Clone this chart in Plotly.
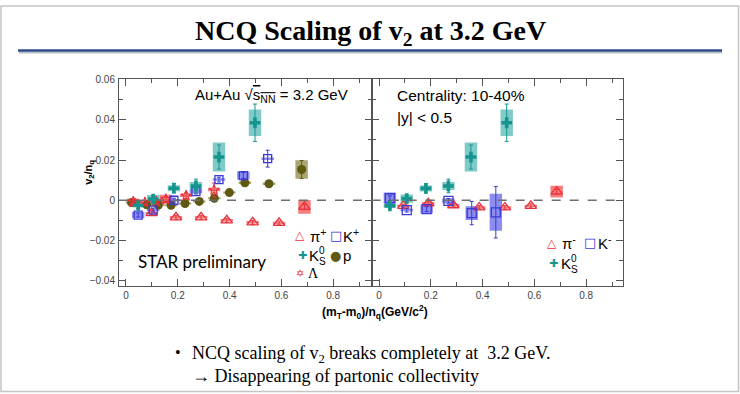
import plotly.graph_objects as go

# ---------------- data ----------------
# Left panel (positive particles + neutral)
pip_x   = [0.035, 0.099, 0.193, 0.290, 0.389, 0.489, 0.591, 0.689]
pip_y   = [-0.0016, -0.0064, -0.0085, -0.0085, -0.0100, -0.0110, -0.0113, -0.0033]
pip_err = [0.0008, 0.0010, 0.0010, 0.0010, 0.0010, 0.0010, 0.0010, 0.0012]
pip_sys = [0.0015, 0.0006, 0.0006, 0.0006, 0.0006, 0.0006, 0.0006, 0.0034]

kp_x   = [0.047, 0.105, 0.185, 0.270, 0.359, 0.453, 0.547]
kp_y   = [-0.0074, -0.0049, 0.0000, 0.0043, 0.0103, 0.0123, 0.0207]
kp_err = [0.0010, 0.0010, 0.0010, 0.0012, 0.0012, 0.0015, 0.0042]
kp_sys = [0.0016, 0.0006, 0.0006, 0.0010, 0.0006, 0.0020, 0.0006]

k0_x   = [0.047, 0.105, 0.185, 0.270, 0.359, 0.498]
k0_y   = [-0.0026, 0.0006, 0.0060, 0.0071, 0.0215, 0.0386]
k0_err = [0.0015, 0.0018, 0.0023, 0.0034, 0.0060, 0.0093]
k0_sys = [0.0008, 0.0020, 0.0015, 0.0020, 0.0072, 0.0066]

p_x   = [0.022, 0.080, 0.125, 0.174, 0.228, 0.283, 0.341, 0.399, 0.459, 0.552, 0.678]
p_y   = [-0.0011, -0.0023, -0.0024, -0.0025, -0.0016, -0.0006, 0.0010, 0.0038, 0.0087, 0.0082, 0.0153]
p_err = [0.0005, 0.0005, 0.0005, 0.0005, 0.0005, 0.0005, 0.0006, 0.0006, 0.0007, 0.0008, 0.0045]
p_sys = [0.0005, 0.0005, 0.0005, 0.0005, 0.0005, 0.0005, 0.0005, 0.0005, 0.0006, 0.0006, 0.0046]

lam_x   = [0.028, 0.073, 0.116, 0.154, 0.232, 0.340]
lam_y   = [-0.0008, -0.0011, -0.0006, 0.0005, 0.0022, 0.0051]
lam_err = [0.0010, 0.0010, 0.0010, 0.0012, 0.0015, 0.0035]
lam_sys = [0.0015, 0.0006, 0.0006, 0.0022, 0.0006, 0.0006]

# Right panel (negative particles + neutral)
pim_x   = [0.094, 0.190, 0.287, 0.387, 0.486, 0.586, 0.686]
pim_y   = [-0.0028, -0.0015, -0.0025, -0.0036, -0.0036, -0.0028, 0.0043]
pim_err = [0.0008, 0.0008, 0.0008, 0.0009, 0.0009, 0.0010, 0.0012]
pim_sys = [0.0006, 0.0006, 0.0006, 0.0006, 0.0006, 0.0006, 0.0029]

km_x   = [0.042, 0.107, 0.184, 0.268, 0.358, 0.451]
km_y   = [0.0010, -0.0049, -0.0044, -0.0003, -0.0064, -0.0060]
km_err = [0.0012, 0.0010, 0.0012, 0.0012, 0.0058, 0.0128]
km_sys = [0.0028, 0.0006, 0.0022, 0.0012, 0.0034, 0.0092]

k0r_x   = [0.042, 0.107, 0.181, 0.268, 0.355, 0.493]
k0r_y   = [-0.0028, 0.0008, 0.0059, 0.0071, 0.0215, 0.0386]
k0r_err = [0.0015, 0.0018, 0.0023, 0.0034, 0.0060, 0.0093]
k0r_sys = [0.0008, 0.0020, 0.0015, 0.0020, 0.0072, 0.0066]

x_ticks = [0, 0.2, 0.4, 0.6, 0.8]
x_ticktext = ["0", "0.2", "0.4", "0.6", "0.8"]
y_ticks = [-0.04, -0.02, 0, 0.02, 0.04, 0.06]
y_ticktext = ["\u22120.04", "\u22120.02", "0", "0.02", "0.04", "0.06"]

# ---------------- styling ----------------
W, H = 740, 394
RED, BLUE, TEAL, OLIVE = "#e8303a", "#3a3ad6", "#16958f", "#5f5a12"
RED_F, BLUE_F = "rgba(240,70,70,0.70)", "rgba(80,80,230,0.65)"
TEAL_F, OLIVE_F = "rgba(60,175,170,0.65)", "rgba(125,118,40,0.65)"

def px(v):  # horizontal pixel -> paper
    return v / W

def py(v):  # vertical pixel -> paper
    return 1 - v / H

L0, L1, R1 = 119, 371.7, 623
T0, B0 = 75, 285
YR = [-0.0429, 0.06035]
XR_L = [-0.0270, 0.9486]
XR_R = [-0.0282, 0.9420]

fig = go.Figure()
shapes = []

def add_series(x, y, err, sys, xa, ya, symbol, color, fill, size, lw=1.3):
    for xi, yi, si in zip(x, y, sys):
        shapes.append(dict(type="rect", xref=xa, yref=ya, layer="below",
                           x0=xi - 0.024, x1=xi + 0.024, y0=yi - si, y1=yi + si,
                           fillcolor=fill, line=dict(width=0)))
    fig.add_trace(go.Scatter(
        x=x, y=y, mode="markers", xaxis=xa, yaxis=ya, showlegend=False,
        marker=dict(symbol=symbol, color=color, size=size,
                    line=dict(color=color, width=lw)),
        error_y=dict(type="data", array=err, color=color, thickness=1, width=2)))

# left panel
add_series(p_x, p_y, p_err, p_sys, "x", "y", "circle", OLIVE, OLIVE_F, 9, 0)
add_series(lam_x, lam_y, lam_err, lam_sys, "x", "y", "star-open", RED, RED_F, 8, 1.2)
add_series(pip_x, pip_y, pip_err, pip_sys, "x", "y", "triangle-up-open", RED, RED_F, 10)
add_series(kp_x, kp_y, kp_err, kp_sys, "x", "y", "square-open", BLUE, BLUE_F, 8)
add_series(k0_x, k0_y, k0_err, k0_sys, "x", "y", "cross", TEAL, TEAL_F, 9, 0)
# right panel
add_series(pim_x, pim_y, pim_err, pim_sys, "x2", "y2", "triangle-up-open", RED, RED_F, 10)
add_series(km_x, km_y, km_err, km_sys, "x2", "y2", "square-open", BLUE, BLUE_F, 9)
add_series(k0r_x, k0r_y, k0r_err, k0r_sys, "x2", "y2", "cross", TEAL, TEAL_F, 9, 0)

# zero lines
for xa, ya in (("x", "y"), ("x2", "y2")):
    shapes.append(dict(type="line", xref=xa + " domain", yref=ya, x0=0, x1=1, y0=0, y1=0,
                       line=dict(color="#6e6e6e", width=1.3, dash="dash")))

# slide decorations
shapes.append(dict(type="rect", xref="paper", yref="paper", x0=px(1), x1=px(738.5),
                   y0=py(391.5), y1=py(1), line=dict(color="#c4c4c4", width=1.5)))
shapes.append(dict(type="line", xref="paper", yref="paper", x0=px(19), x1=px(722),
                   y0=py(48), y1=py(48), line=dict(color="#b9bdc8", width=2)))
shapes.append(dict(type="line", xref="paper", yref="paper", x0=px(18), x1=px(722),
                   y0=py(46), y1=py(46), line=dict(color="#2f4c8c", width=2.5)))

axis_common = dict(showline=True, linecolor="#555555", linewidth=1, mirror="ticks",
                   ticks="inside", ticklen=7, tickcolor="#555555", tickwidth=1,
                   showgrid=False, zeroline=False,
                   tickfont=dict(family="Liberation Sans, Arial", size=10, color="#444444"))
minor_x = dict(dtick=0.1, ticklen=4, tickcolor="#555555", ticks="inside")
minor_y = dict(dtick=0.01, ticklen=4, tickcolor="#555555", ticks="inside")

fig.update_layout(
    width=W, height=H, margin=dict(l=0, r=0, t=0, b=0),
    paper_bgcolor="white", plot_bgcolor="white", showlegend=False,
    xaxis=dict(domain=[px(L0), px(L1)], range=XR_L, anchor="y",
               tickvals=x_ticks, ticktext=x_ticktext, minor=minor_x, **axis_common),
    yaxis=dict(domain=[py(B0), py(T0)], range=YR, anchor="x",
               tickvals=y_ticks, ticktext=y_ticktext, minor=minor_y,
               ticklabelstandoff=1, **axis_common),
    xaxis2=dict(domain=[px(L1), px(R1)], range=XR_R, anchor="y2",
                tickvals=x_ticks, ticktext=x_ticktext, minor=minor_x, **axis_common),
    yaxis2=dict(domain=[py(B0), py(T0)], range=YR, anchor="x2",
                tickvals=y_ticks, showticklabels=False, minor=minor_y, **axis_common),
    shapes=shapes,
)

ARIAL = "Liberation Sans, Arial"
SERIF = "Liberation Serif, Times New Roman"
ann = []

def text(x, y, s, size=12, family=ARIAL, color="black", xanchor="left", angle=0, align="left"):
    ann.append(dict(x=px(x), y=py(y), xref="paper", yref="paper", text=s, showarrow=False,
                    xanchor=xanchor, yanchor="middle", textangle=angle, align=align,
                    font=dict(family=family, size=size, color=color)))

# title and bullets
text(370, 28, "<b>NCQ Scaling of v<sub>2</sub> at 3.2 GeV</b>", 28, SERIF, xanchor="center")
text(173, 352, "\u2022", 16, SERIF)
text(190, 364,
     "NCQ scaling of v<sub>2</sub> breaks completely at  3.2 GeV.<br>"
     "\u2192 Disappearing of partonic collectivity", 18, SERIF)

# axis titles
text(375, 311, "<b>(m<sub>T</sub>-m<sub>0</sub>)/n<sub>q</sub>(GeV/c<sup>2</sup>)</b>", 12, xanchor="center")
text(89, 170, "<b>v<sub>2</sub>/n<sub>q</sub></b>", 11, xanchor="center", angle=-90)

# in-panel labels
text(193, 92, "Au+Au \u221A<span style='text-decoration:overline'>s<sub>NN</sub></span> = 3.2 GeV", 15)
text(395, 92, "Centrality: 10-40%", 15.5)
text(395, 114, "|y| < 0.5", 15.5)
text(202, 260, "STAR preliminary", 17, "Lato, Noto Sans", xanchor="center")

def k0s_label(x, y):
    text(x, y, "K", 15)
    text(x + 10, y - 5, "0", 10)
    text(x + 10, y + 6, "S", 10)

# legend (left panel)
text(300, 233, "\u25B3", 12, "DejaVu Sans", RED, "center")
text(308, 233, "\u03C0<sup>+</sup>", 15)
text(336, 233, "\u25A1", 13, "DejaVu Sans", BLUE, "center")
text(341, 233, "K<sup>+</sup>", 15)
text(302, 254, "\u271A", 11, "DejaVu Sans", TEAL, "center")
k0s_label(307, 254)
text(335, 254, "\u25CF", 13, "DejaVu Sans", OLIVE, "center")
text(341, 254, "p", 15)
text(300, 272, "\u2721", 10, "DejaVu Sans", RED, "center")
text(306, 272, "\u039B", 14, SERIF)

# legend (right panel)
text(552, 241, "\u25B3", 12, "DejaVu Sans", RED, "center")
text(560, 241, "\u03C0<sup>-</sup>", 15)
text(590, 241, "\u25A1", 13, "DejaVu Sans", BLUE, "center")
text(596, 241, "K<sup>-</sup>", 15)
text(553, 262, "\u271A", 11, "DejaVu Sans", TEAL, "center")
k0s_label(559, 262)

fig.update_layout(annotations=ann)
fig.write_html("out.html", config={"displayModeBar": False},
               post_script="document.body.style.margin='0';document.body.style.padding='0';")
